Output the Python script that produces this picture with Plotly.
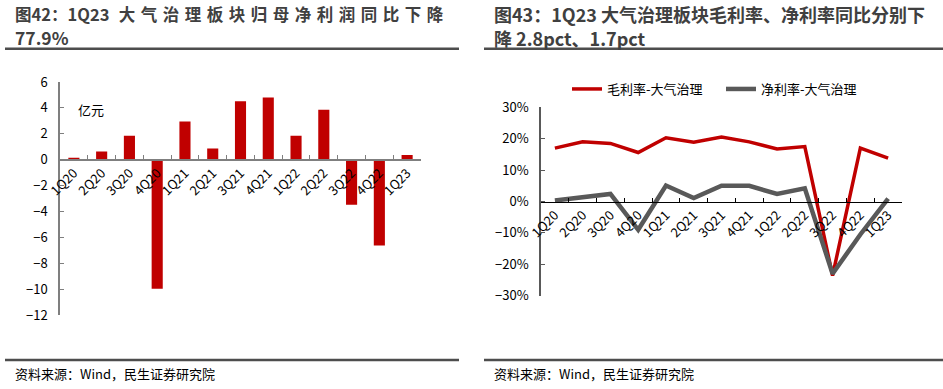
import plotly.graph_objects as go

quarters = ["1Q20", "2Q20", "3Q20", "4Q20", "1Q21", "2Q21", "3Q21", "4Q21",
            "1Q22", "2Q22", "3Q22", "4Q22", "1Q23"]
net_profit = [0.15, 0.64, 1.85, -9.95, 2.95, 0.87, 4.52, 4.81, 1.85, 3.86, -3.47, -6.61, 0.36]
gross_margin = [0.170, 0.190, 0.185, 0.156, 0.203, 0.189, 0.205, 0.190, 0.167, 0.175, -0.236, 0.170, 0.138]
net_margin = [0.003, 0.013, 0.024, -0.090, 0.051, 0.011, 0.050, 0.050, 0.024, 0.042, -0.230, -0.105, 0.009]
left_yticks = [6, 4, 2, 0, -2, -4, -6, -8, -10, -12]

W, H = 943, 389
RED = "#C00000"
GRAY = "#595959"
FONT = "Noto Sans CJK SC"

def px_x(p):
    return p / W

def px_y(p):
    return 1 - p / H

# domains
lx = [px_x(60), px_x(421)]
ly = [px_y(315.3), px_y(82)]
rx = [px_x(541), px_x(902)]
ry = [px_y(295.7), px_y(107.3)]

fig = go.Figure()
fig.add_trace(go.Bar(x=quarters, y=net_profit, marker_color=RED, marker_line_width=0,
                     xaxis="x", yaxis="y", showlegend=False))
fig.add_trace(go.Scatter(x=quarters, y=gross_margin, mode="lines", name="毛利率-大气治理",
                         line=dict(color=RED, width=3.5), xaxis="x2", yaxis="y2", legend="legend"))
fig.add_trace(go.Scatter(x=quarters, y=net_margin, mode="lines", name="净利率-大气治理",
                         line=dict(color=GRAY, width=4.5), xaxis="x2", yaxis="y2", legend="legend2"))

tickfont = dict(family=FONT, size=13, color="#000000")

fig.update_layout(
    width=W, height=H,
    margin=dict(l=0, r=0, t=0, b=0, pad=0, autoexpand=False),
    paper_bgcolor="white", plot_bgcolor="white",
    font=dict(family=FONT, size=13, color="#000000"),
    bargap=0.6,
    xaxis=dict(domain=lx, anchor="free", position=ly[0] + (12 / 18) * (ly[1] - ly[0]),
               range=[-0.5, 12.5], type="category", showline=True, linecolor="#7f7f7f", linewidth=1.5,
               ticks="inside", tickson="boundaries", ticklen=4, tickcolor="#7f7f7f",
               tickangle=-45, tickfont=tickfont, showgrid=False, zeroline=False, automargin=False),
    yaxis=dict(domain=ly, anchor="x", range=[-12, 6], tickvals=left_yticks,
               showline=True, linecolor="#7f7f7f", linewidth=1.5, ticks="inside", ticklen=4,
               tickcolor="#7f7f7f", tickfont=tickfont, showgrid=False, zeroline=False,
               ticklabelstandoff=8, automargin=False),
    xaxis2=dict(domain=rx, anchor="free", position=ry[0] + 0.5 * (ry[1] - ry[0]),
                range=[-0.5, 12.5], type="category", showline=True, linecolor="#000000", linewidth=1,
                ticks="inside", tickson="boundaries", ticklen=4, tickcolor="#000000",
                tickangle=-45, tickfont=tickfont, showgrid=False, zeroline=False, automargin=False),
    yaxis2=dict(domain=ry, anchor="x2", range=[-0.3, 0.3], dtick=0.1, tickformat=".0%",
                showline=True, linecolor="#595959", linewidth=1.5, ticks="inside", ticklen=4,
                tickcolor="#595959", tickfont=tickfont, showgrid=False, zeroline=False,
                ticklabelstandoff=8, automargin=False),
    legend=dict(x=px_x(567), y=px_y(89), xanchor="left", yanchor="middle",
                font=dict(family=FONT, size=13, color="#000000"), bgcolor="rgba(0,0,0,0)"),
    legend2=dict(x=px_x(721), y=px_y(89), xanchor="left", yanchor="middle",
                 font=dict(family=FONT, size=13, color="#000000"), bgcolor="rgba(0,0,0,0)"),
    showlegend=True,
)

sp = "\u2004"
left_title1 = "图42：1Q23 " + sp + sp.join("大气治理板块归母净利润同比下降")
annos = [
    dict(text="<b>" + left_title1 + "</b>", x=px_x(14), y=px_y(14), font=dict(family=FONT, size=16.5, color="#404040")),
    dict(text="<b>77.9%</b>", x=px_x(14), y=px_y(38), font=dict(family=FONT, size=17.5, color="#404040")),
    dict(text="<b>图43：1Q23 大气治理板块毛利率、净利率同比分别下</b>", x=px_x(493), y=px_y(14), font=dict(family=FONT, size=18, color="#404040")),
    dict(text="<b>降 2.8pct、1.7pct</b>", x=px_x(493), y=px_y(38), font=dict(family=FONT, size=18, color="#404040")),
]
for a in annos:
    fig.add_annotation(xref="paper", yref="paper", xanchor="left", yanchor="middle",
                       showarrow=False, borderpad=0, **a)

for xs in (14, 493):
    fig.add_annotation(text="资料来源：Wind，民生证券研究院", xref="paper", yref="paper",
                       x=px_x(xs), y=px_y(373), xanchor="left", yanchor="middle", showarrow=False,
                       font=dict(family=FONT, size=13, color="#000000"), borderpad=0)

fig.add_annotation(text="亿元", xref="paper", yref="paper", x=px_x(77), y=px_y(109),
                   xanchor="left", yanchor="middle", showarrow=False, borderpad=0,
                   font=dict(family=FONT, size=13, color="#000000"))

for (x0, x1) in ((5, 459), (484, 943)):
    for yy in (48.7, 360):
        fig.add_shape(type="line", xref="paper", yref="paper", x0=px_x(x0), x1=px_x(x1),
                      y0=px_y(yy), y1=px_y(yy), line=dict(color="#4d4d4d", width=2.5))

fig.write_html("out.html", config={"displayModeBar": False},
               post_script="document.body.style.margin='0px';document.body.style.overflow='hidden';")
